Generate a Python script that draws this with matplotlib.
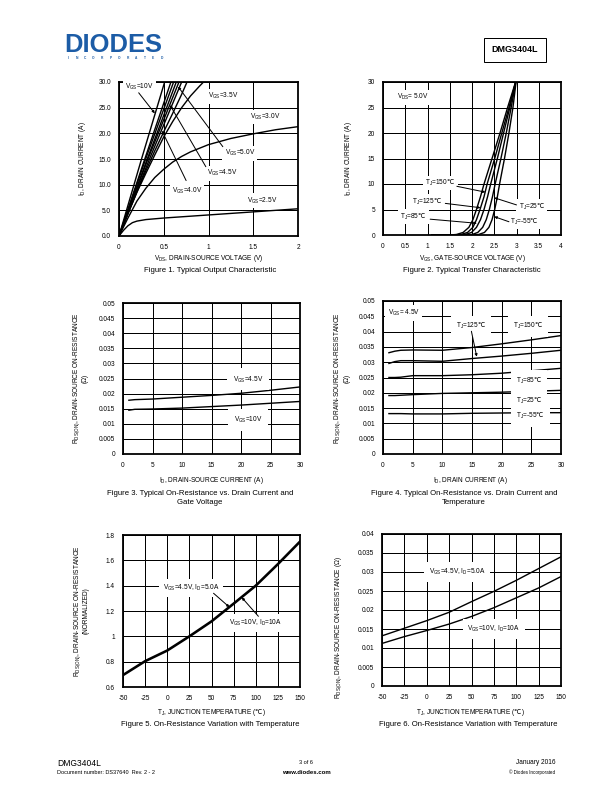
import matplotlib
matplotlib.use("Agg")
import matplotlib.pyplot as plt

plt.rcParams['font.family'] = ['Liberation Sans', 'DejaVu Sans']
plt.rcParams['mathtext.fontset'] = 'custom'
plt.rcParams['mathtext.rm'] = 'DejaVu Sans'
plt.rcParams['mathtext.default'] = 'regular'

W, H = 612, 792
fig = plt.figure(figsize=(8.5, 11), dpi=72)

DEG = r'$\mathrm{℃}$'

# ---------------- DATA ----------------
# Figure 1: output characteristic (VDS in V, ID in A)
vds_10v = [0, 0.25, 0.51]
id_10v = [0, 14.9, 30]
vds_8v = [0, 0.29, 0.58]
id_8v = [0, 15.1, 30]
vds_7v = [0, 0.30, 0.61]
id_7v = [0, 15.1, 30]
vds_6v = [0, 0.32, 0.64]
id_6v = [0, 15.2, 30]
vds_5v = [0, 0.33, 0.67]
id_5v = [0, 15.3, 30]
vds_45v = [0, 0.35, 0.70]
id_45v = [0, 15.4, 30]
vds_4v = [0, 0.1, 0.2, 0.3, 0.4, 0.5, 0.6, 0.7, 0.76]
id_4v = [0, 4.3, 8.6, 12.7, 16.6, 20.3, 23.9, 27.6, 30]
vds_35v = [0, 0.1, 0.2, 0.3, 0.4, 0.5, 0.6, 0.7, 0.8, 0.9, 0.95]
id_35v = [0, 4.4, 8.5, 12.2, 15.8, 19.3, 22.3, 25.0, 27.3, 29.2, 30.1]
vds_3v = [0, 0.1, 0.2, 0.3, 0.4, 0.5, 0.6, 0.7, 0.8, 1.0, 1.25, 1.5, 1.75, 2.0]
id_3v = [0, 3.5, 6.8, 9.3, 11.4, 13.0, 14.4, 15.5, 16.4, 17.8, 19.0, 19.9, 20.7, 21.3]
vds_25v = [0, 0.05, 0.1, 0.15, 0.2, 0.3, 0.5, 0.75, 1.0, 1.25, 1.5, 1.75, 2.0]
id_25v = [0, 1.1, 2.0, 2.6, 2.9, 3.2, 3.5, 3.8, 4.1, 4.4, 4.7, 5.0, 5.3]

# Figure 2: transfer characteristic (VDS = 5 V)
id_levels = [0, 0, 0.1, 0.5, 1.5, 3, 5, 7.5, 10, 15, 20, 25, 30]
vgs_150 = [1.1, 1.5, 1.65, 1.8, 1.93, 2.02, 2.1, 2.19, 2.27, 2.45, 2.63, 2.8, 2.98]
vgs_125 = [1.1, 1.6, 1.75, 1.9, 2.02, 2.1, 2.18, 2.27, 2.34, 2.51, 2.67, 2.83, 2.98]
vgs_85 = [1.1, 1.7, 1.85, 1.99, 2.1, 2.19, 2.27, 2.35, 2.42, 2.57, 2.71, 2.85, 2.98]
vgs_25 = [1.1, 1.85, 2.0, 2.13, 2.24, 2.32, 2.39, 2.46, 2.52, 2.65, 2.77, 2.88, 2.985]
vgs_m55 = [1.1, 2.0, 2.15, 2.28, 2.38, 2.45, 2.51, 2.57, 2.62, 2.73, 2.83, 2.92, 2.99]

# Figure 3: RDS(on) vs ID and VGS
id_f3 = [1, 2, 5, 10, 15, 20, 25, 30]
rds_45v = [0.0178, 0.0180, 0.0182, 0.0188, 0.0194, 0.0201, 0.0211, 0.0222]
rds_10v = [0.0145, 0.0148, 0.0149, 0.0152, 0.0157, 0.0162, 0.0168, 0.0174]

# Figure 4: RDS(on) vs ID and temperature (VGS = 4.5 V)
id_f4 = [1, 2, 3, 5, 10, 15, 20, 25, 30]
rds_t150 = [0.0331, 0.0336, 0.0339, 0.0340, 0.0339, 0.0348, 0.0360, 0.0373, 0.0387]
rds_t125 = [0.0296, 0.0302, 0.0305, 0.0305, 0.0303, 0.0312, 0.0320, 0.0329, 0.0339]
rds_t85 = [0.0250, 0.0250, 0.0251, 0.0256, 0.0256, 0.0259, 0.0264, 0.0272, 0.0280]
rds_t25 = [0.0191, 0.0191, 0.0192, 0.0194, 0.0198, 0.0200, 0.0202, 0.0205, 0.0208]
rds_tm55 = [0.0132, 0.0132, 0.0132, 0.0131, 0.0131, 0.0133, 0.0134, 0.0135, 0.0135]

# Figure 5: normalized RDS(on) vs temperature
tj = [-50, -25, 0, 25, 50, 75, 100, 125, 150]
rds_norm = [0.694, 0.804, 0.888, 1.0, 1.118, 1.258, 1.40, 1.57, 1.748]

# Figure 6: RDS(on) vs temperature
rds_45v_5a = [0.0132, 0.0152, 0.0172, 0.0194, 0.0222, 0.0249, 0.0278, 0.0309, 0.0340]
rds_10v_10a = [0.0112, 0.0130, 0.0146, 0.0163, 0.0183, 0.0206, 0.0232, 0.0258, 0.0288]

# ---------------- HELPERS ----------------
FS = 6.5
CFS = 7.8
LW = 1.4


def add_ax(l, t, r, b):
    return fig.add_axes([l / W, 1 - b / H, (r - l) / W, (b - t) / H])


def style(ax, xlim, ylim, xticks, xlabels, yticks, ylabels):
    ax.set_xlim(*xlim)
    ax.set_ylim(*ylim)
    ax.set_xticks(xticks)
    ax.set_xticklabels(xlabels)
    ax.set_yticks(yticks)
    ax.set_yticklabels(ylabels)
    ax.tick_params(length=0, labelsize=FS, pad=8)
    ax.grid(True, color='black', lw=1.0)
    ax.set_axisbelow(True)
    for s in ax.spines.values():
        s.set_linewidth(1.8)


def ftext(x, y, s, **kw):
    kw.setdefault('fontsize', FS)
    fig.text(x / W, 1 - y / H, s, **kw)


def lab(ax, x, y, s, ha='left', pad=0.35):
    ax.text(x, y, s, fontsize=FS, ha=ha, va='center', zorder=5,
            bbox=dict(boxstyle='square,pad=%s' % pad, fc='white', ec='none'))


def arrow(ax, x0, y0, x1, y1):
    ax.annotate('', xy=(x1, y1), xytext=(x0, y0), zorder=6,
                arrowprops=dict(arrowstyle='-|>', color='black', lw=1.0,
                                mutation_scale=5, shrinkA=0, shrinkB=0))


# ---------------- FIGURE 1 ----------------
ax1 = add_ax(119, 82, 298, 236)
style(ax1, (0, 2), (0, 30), [0, 0.5, 1, 1.5, 2], ['0', '0.5', '1', '1.5', '2'],
      [0, 5, 10, 15, 20, 25, 30], ['0.0', '5.0', '10.0', '15.0', '20.0', '25.0', '30.0'])
for xs, ys in [(vds_10v, id_10v), (vds_8v, id_8v), (vds_7v, id_7v), (vds_6v, id_6v),
               (vds_5v, id_5v), (vds_45v, id_45v), (vds_4v, id_4v), (vds_35v, id_35v),
               (vds_3v, id_3v), (vds_25v, id_25v)]:
    ax1.plot(xs, ys, color='black', lw=LW)
lab(ax1, 0.07, 29.0, 'V$_{GS}$=10V')
arrow(ax1, 0.22, 27.9, 0.40, 23.9)
lab(ax1, 0.99, 27.2, 'V$_{GS}$=3.5V')
lab(ax1, 1.46, 23.2, 'V$_{GS}$=3.0V')
lab(ax1, 1.18, 16.1, 'V$_{GS}$=5.0V')
arrow(ax1, 1.16, 17.4, 0.66, 29.1)
lab(ax1, 0.98, 12.2, 'V$_{GS}$=4.5V')
arrow(ax1, 0.97, 13.5, 0.57, 25.5)
lab(ax1, 0.59, 8.7, 'V$_{GS}$=4.0V')
arrow(ax1, 0.75, 10.8, 0.48, 20.5)
lab(ax1, 1.43, 6.9, 'V$_{GS}$=2.5V')
ftext(83, 159, 'I$_D$, DRAIN CURRENT (A)', rotation=90, ha='center', va='center')
ftext(209, 258, 'V$_{DS}$, DRAIN-SOURCE VOLTAGE (V)', ha='center', va='center')
ftext(210, 271, 'Figure 1. Typical Output Characteristic', fontsize=CFS, ha='center', va='center')

# ---------------- FIGURE 2 ----------------
ax2 = add_ax(383, 82, 561, 235)
style(ax2, (0, 4), (0, 30), [0, 0.5, 1, 1.5, 2, 2.5, 3, 3.5, 4],
      ['0', '0.5', '1', '1.5', '2', '2.5', '3', '3.5', '4'],
      [0, 5, 10, 15, 20, 25, 30], ['0', '5', '10', '15', '20', '25', '30'])
for xs in [vgs_150, vgs_125, vgs_85, vgs_25, vgs_m55]:
    ax2.plot(xs, id_levels, color='black', lw=LW)
lab(ax2, 0.31, 27.0, 'V$_{DS}$= 5.0V')
lab(ax2, 0.95, 10.2, 'T$_J$=150' + DEG)
arrow(ax2, 1.66, 9.55, 2.30, 8.4)
lab(ax2, 0.65, 6.55, 'T$_J$=125' + DEG)
arrow(ax2, 1.40, 6.2, 2.19, 5.35)
lab(ax2, 0.39, 3.6, 'T$_J$=85' + DEG)
arrow(ax2, 1.06, 3.1, 2.11, 2.3)
lab(ax2, 3.05, 5.55, 'T$_J$=25' + DEG)
arrow(ax2, 3.0, 5.9, 2.5, 7.3)
lab(ax2, 2.86, 2.6, 'T$_J$=-55' + DEG)
arrow(ax2, 2.83, 2.6, 2.5, 3.6)
ftext(348, 159, 'I$_D$, DRAIN CURRENT (A)', rotation=90, ha='center', va='center')
ftext(472, 259, 'V$_{GS}$, GATE-SOURCE VOLTAGE (V)', ha='center', va='center')
ftext(472, 271, 'Figure 2. Typical Transfer Characteristic', fontsize=CFS, ha='center', va='center')

# ---------------- FIGURE 3 ----------------
r_ticks = [0, 0.005, 0.01, 0.015, 0.02, 0.025, 0.03, 0.035, 0.04, 0.045, 0.05]
r_labels = ['0', '0.005', '0.01', '0.015', '0.02', '0.025', '0.03', '0.035', '0.04', '0.045', '0.05']
id_ticks = [0, 5, 10, 15, 20, 25, 30]
id_labels = ['0', '5', '10', '15', '20', '25', '30']
ax3 = add_ax(123, 303, 300, 454)
style(ax3, (0, 30), (0, 0.05), id_ticks, id_labels, r_ticks, r_labels)
ax3.plot(id_f3, rds_45v, color='black', lw=LW)
ax3.plot(id_f3, rds_10v, color='black', lw=LW)
lab(ax3, 21.2, 0.0247, 'V$_{GS}$=4.5V', ha='center', pad=0.9)
lab(ax3, 21.2, 0.0113, 'V$_{GS}$=10V', ha='center', pad=0.9)
ftext(77, 378, 'R$_{DS(ON)}$, DRAIN-SOURCE ON-RESISTANCE', rotation=90, ha='center', va='center')
ftext(85, 378, '(Ω)', rotation=90, ha='center', va='center')
ftext(211, 480, 'I$_D$, DRAIN-SOURCE CURRENT (A)', ha='center', va='center')
ftext(200, 493, 'Figure 3. Typical On-Resistance vs. Drain Current and', fontsize=CFS, ha='center', va='center')
ftext(200, 503, 'Gate Voltage', fontsize=CFS, ha='center', va='center')

# ---------------- FIGURE 4 ----------------
ax4 = add_ax(383, 301, 561, 454)
style(ax4, (0, 30), (0, 0.05), id_ticks, id_labels, r_ticks, r_labels)
for ys in [rds_t150, rds_t125, rds_t85, rds_t25, rds_tm55]:
    ax4.plot(id_f4, ys, color='black', lw=LW)
lab(ax4, 0.8, 0.0461, 'V$_{GS}$= 4.5V', pad=0.4)
lab(ax4, 14.8, 0.0417, 'T$_J$=125' + DEG, ha='center', pad=0.8)
arrow(ax4, 14.9, 0.0401, 15.8, 0.0318)
lab(ax4, 24.4, 0.0417, 'T$_J$=150' + DEG, ha='center', pad=0.8)
lab(ax4, 24.6, 0.0240, 'T$_J$=85' + DEG, ha='center', pad=0.8)
lab(ax4, 24.6, 0.0172, 'T$_J$=25' + DEG, ha='center', pad=0.8)
lab(ax4, 24.9, 0.0123, 'T$_J$=-55' + DEG, ha='center', pad=0.8)
ftext(338, 378, 'R$_{DS(ON)}$, DRAIN-SOURCE ON-RESISTANCE', rotation=90, ha='center', va='center')
ftext(347, 378, '(Ω)', rotation=90, ha='center', va='center')
ftext(470, 480, 'I$_D$, DRAIN CURRENT (A)', ha='center', va='center')
ftext(464, 493, 'Figure 4. Typical On-Resistance vs. Drain Current and', fontsize=CFS, ha='center', va='center')
ftext(464, 503, 'Temperature', fontsize=CFS, ha='center', va='center')

# ---------------- FIGURE 5 ----------------
t_ticks = [-50, -25, 0, 25, 50, 75, 100, 125, 150]
t_labels = ['-50', '-25', '0', '25', '50', '75', '100', '125', '150']
ax5 = add_ax(123, 535, 300, 687)
style(ax5, (-50, 150), (0.6, 1.8), t_ticks, t_labels,
      [0.6, 0.8, 1.0, 1.2, 1.4, 1.6, 1.8], ['0.6', '0.8', '1', '1.2', '1.4', '1.6', '1.8'])
ax5.plot(tj, rds_norm, color='black', lw=2.6)
lab(ax5, -4.9, 1.381, 'V$_{GS}$=4.5V, I$_D$=5.0A', pad=0.6)
arrow(ax5, 52.3, 1.34, 70.3, 1.23)
lab(ax5, 70.3, 1.105, 'V$_{GS}$=10V, I$_D$=10A', pad=0.6)
arrow(ax5, 103, 1.158, 84.2, 1.307)
ftext(78, 611, 'R$_{DS(ON)}$, DRAIN-SOURCE ON-RESISTANCE', rotation=90, ha='center', va='center')
ftext(86, 611, '(NORMALIZED)', rotation=90, ha='center', va='center')
ftext(211, 713, 'T$_J$, JUNCTION TEMPERATURE (' + DEG + ')', ha='center', va='center')
ftext(210, 725, 'Figure 5. On-Resistance Variation with Temperature', fontsize=CFS, ha='center', va='center')

# ---------------- FIGURE 6 ----------------
ax6 = add_ax(382, 534, 561, 686)
style(ax6, (-50, 150), (0, 0.04), t_ticks, t_labels,
      r_ticks[:9], r_labels[:9])
ax6.plot(tj, rds_45v_5a, color='black', lw=LW)
ax6.plot(tj, rds_10v_10a, color='black', lw=LW)
lab(ax6, 34, 0.030, 'V$_{GS}$=4.5V, I$_D$=5.0A', ha='center', pad=0.7)
lab(ax6, 75, 0.015, 'V$_{GS}$=10V, I$_D$=10A', ha='center', pad=0.7)
ftext(339, 628, 'R$_{DS(ON)}$, DRAIN-SOURCE ON-RESISTANCE (Ω)', rotation=90, ha='center', va='center')
ftext(470, 713, 'T$_J$, JUNCTION TEMPERATURE (' + DEG + ')', ha='center', va='center')
ftext(468, 725, 'Figure 6. On-Resistance Variation with Temperature', fontsize=CFS, ha='center', va='center')

# ---------------- HEADER / FOOTER ----------------
ftext(64, 45, 'DIODES', fontsize=25.5, fontweight='bold', color='#1c5ca6', ha='left', va='center')
for i, ch in enumerate('INCORPORATED'):
    ftext(68 + i * 8.5, 58, ch, fontsize=3.2, fontweight='bold', color='#1c5ca6', ha='center', va='center')
ftext(515, 50, 'DMG3404L', fontsize=9, fontweight='bold', ha='center', va='center',
      bbox=dict(boxstyle='square,pad=0.85', fc='white', ec='black', lw=1.0))

ftext(57, 763, 'DMG3404L', fontsize=8.5, ha='left', va='center')
ftext(57, 772, 'Document number: DS37640  Rev. 2 - 2', fontsize=5.5, ha='left', va='center')
ftext(306, 763, '3 of 6', fontsize=5.5, ha='center', va='center')
ftext(306, 772, 'www.diodes.com', fontsize=6, fontweight='bold', ha='center', va='center')
ftext(555, 763, 'January 2016', fontsize=6.5, ha='right', va='center')
ftext(555, 772, '© Diodes Incorporated', fontsize=4.5, ha='right', va='center')

fig.savefig('out.png', dpi=72)
